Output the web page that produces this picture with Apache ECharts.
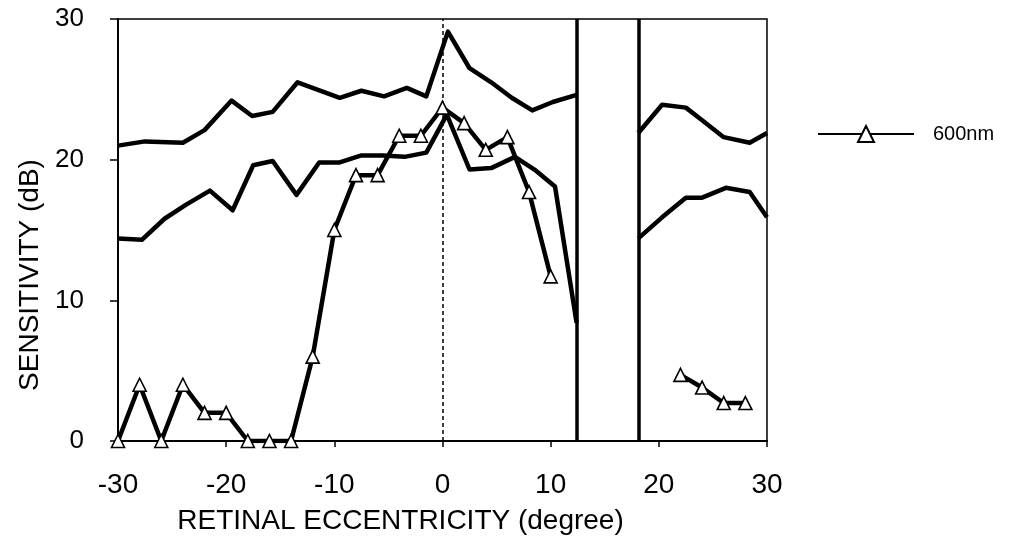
<!DOCTYPE html>
<html>
<head>
<meta charset="utf-8">
<script src="https://cdn.jsdelivr.net/npm/echarts@6/dist/echarts.min.js"></script>
<style>
html,body{margin:0;padding:0;background:#fff;}
#c{width:1013px;height:544px;}
</style>
</head>
<body>
<div id="c"></div>
<script>
// ---- data ----
var xTicks = [-30, -20, -10, 0, 10, 20, 30];
var yTicks = [0, 10, 20, 30];

var triLeftX = [-30, -28, -26, -24, -22, -20, -18, -16, -14, -12, -10, -8, -6, -4, -2, 0, 2, 4, 6, 8, 10];
var triLeftY = [0, 4, 0, 4, 2, 2, 0, 0, 0, 6, 15, 18.9, 18.9, 21.7, 21.7, 23.7, 22.6, 20.7, 21.6, 17.7, 11.7];
var triRightX = [22, 24, 26, 28];
var triRightY = [4.7, 3.8, 2.7, 2.7];

var upperLeftX = [-30, -27.5, -24, -22, -19.5, -17.6, -15.7, -13.4, -9.5, -7.5, -5.4, -3.3, -1.5, 0.5, 2.5, 4.5, 6.4, 8.3, 10.2, 12.4];
var upperLeftY = [21.0, 21.3, 21.2, 22.1, 24.2, 23.1, 23.4, 25.5, 24.4, 24.9, 24.5, 25.1, 24.5, 29.1, 26.5, 25.5, 24.4, 23.5, 24.1, 24.6];
var upperRightX = [18.1, 20.3, 22.5, 24, 26, 28.4, 30];
var upperRightY = [21.9, 23.9, 23.7, 22.8, 21.6, 21.2, 21.9];

var lowerLeftX = [-30, -27.8, -25.7, -23.7, -21.5, -19.4, -17.5, -15.7, -13.5, -11.4, -9.5, -7.5, -5.5, -3.5, -1.5, 0.4, 2.5, 4.5, 6.7, 8.5, 10.4, 12.4];
var lowerLeftY = [14.4, 14.3, 15.8, 16.8, 17.8, 16.4, 19.6, 19.9, 17.5, 19.8, 19.8, 20.3, 20.3, 20.2, 20.5, 23.2, 19.3, 19.4, 20.2, 19.3, 18.1, 8.4];
var lowerRightX = [18.1, 20.3, 22.5, 24, 26.2, 28.4, 30];
var lowerRightY = [14.4, 15.9, 17.3, 17.3, 18.0, 17.7, 15.9];

var blindSpotEdges = [12.4, 18.1];
var centerLineX = 0;
var seriesName = '600nm';

// ---- build ----
function pairs(xs, ys) { return xs.map(function (x, i) { return [x, ys[i]]; }); }

var FONT = 'Liberation Sans, Arial, Helvetica, sans-serif';

function plainLine(xs, ys) {
  return {
    type: 'line', data: pairs(xs, ys), showSymbol: false, symbol: 'none',
    lineStyle: { color: '#000', width: 4.5, join: 'round' }, z: 3, silent: true
  };
}
function triLine(xs, ys, name) {
  return {
    type: 'line', name: name, data: pairs(xs, ys), symbol: 'triangle', symbolSize: 13,
    itemStyle: { color: '#fff', borderColor: '#000', borderWidth: 1.6 },
    lineStyle: { color: '#000', width: 4.5, join: 'round' }, z: 5, silent: true
  };
}

var series = [
  plainLine(upperLeftX, upperLeftY),
  plainLine(upperRightX, upperRightY),
  plainLine(lowerLeftX, lowerLeftY),
  plainLine(lowerRightX, lowerRightY),
  triLine(triLeftX, triLeftY, seriesName),
  triLine(triRightX, triRightY, seriesName + ' '),
  {
    type: 'line', data: [], silent: true,
    markLine: {
      symbol: 'none', silent: true, label: { show: false },
      data: blindSpotEdges.map(function (x) { return { xAxis: x, lineStyle: { color: '#000', width: 3.5, type: 'solid' } }; })
        .concat([{ xAxis: centerLineX, lineStyle: { color: '#000', width: 1.5, type: [4, 3] } }])
    },
    z: 2
  }
];

var chart = echarts.init(document.getElementById('c'), null, { renderer: 'canvas' });
chart.setOption({
  animation: false,
  backgroundColor: '#fff',
  grid: { left: 118, right: 246, top: 19, bottom: 103, show: true, borderColor: '#000', borderWidth: 1.5, backgroundColor: 'transparent' },
  legend: {
    data: [{ name: seriesName }],
    left: 812, top: 119, itemWidth: 96, itemHeight: 20, selectedMode: false,
    textStyle: { fontFamily: FONT, fontSize: 20, color: '#000', padding: [0, 0, 0, 14] }
  },
  xAxis: {
    type: 'value', min: xTicks[0], max: xTicks[xTicks.length - 1], interval: 10,
    axisLine: { onZero: false, lineStyle: { color: '#000', width: 2 } },
    axisTick: { show: true, inside: false, length: 6, lineStyle: { color: '#000', width: 1.5 } },
    axisLabel: { color: '#000', fontFamily: FONT, fontSize: 28, margin: 30 },
    splitLine: { show: false },
    name: 'RETINAL ECCENTRICITY (degree)', nameLocation: 'middle', nameGap: 66,
    nameTextStyle: { color: '#000', fontFamily: FONT, fontSize: 28, padding: [0, 84, 0, 0] }
  },
  yAxis: {
    type: 'value', min: yTicks[0], max: yTicks[yTicks.length - 1], interval: 10,
    axisLine: { show: true, onZero: false, lineStyle: { color: '#000', width: 2 } },
    axisTick: { show: true, inside: false, length: 8, lineStyle: { color: '#000', width: 1.5 } },
    axisLabel: { color: '#000', fontFamily: FONT, fontSize: 26, margin: 34 },
    splitLine: { show: false },
    name: 'SENSITIVITY (dB)', nameLocation: 'middle', nameGap: 74, nameRotate: 90,
    nameTextStyle: { color: '#000', fontFamily: FONT, fontSize: 28, padding: [0, 90, 0, 0] }
  },
  series: series
});
</script>
</body>
</html>
